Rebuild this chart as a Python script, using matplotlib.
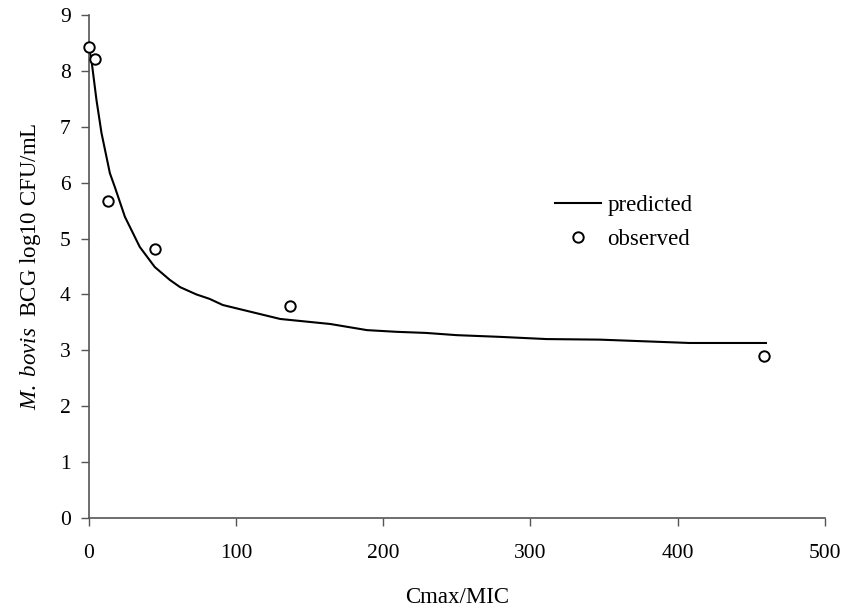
import matplotlib
matplotlib.use('Agg')
import matplotlib.pyplot as plt

plt.rcParams['font.family'] = ['Liberation Serif', 'DejaVu Serif']
plt.rcParams['mathtext.fontset'] = 'custom'
plt.rcParams['mathtext.it'] = 'Liberation Serif:italic'
plt.rcParams['mathtext.rm'] = 'Liberation Serif'

# model prediction (Cmax/MIC vs log10 CFU/mL)
pred_x = [0, 1.8, 5.2, 8.6, 14.3, 17.7, 24.5, 34.6, 44.8, 55, 62, 73, 82, 91,
          130, 164, 189, 209, 229, 250, 279, 311, 347, 408, 460]
pred_y = [8.43, 8.19, 7.48, 6.89, 6.17, 5.92, 5.39, 4.85, 4.49, 4.26, 4.13, 4.0,
          3.92, 3.81, 3.56, 3.47, 3.36, 3.33, 3.31, 3.27, 3.24, 3.2, 3.19, 3.13, 3.13]

# measured counts
obs_x = [0, 4, 13, 45, 136.5, 459]
obs_y = [8.43, 8.21, 5.67, 4.81, 3.79, 2.9]

fig, ax = plt.subplots(figsize=(8.46, 6.07), dpi=100)
fig.subplots_adjust(left=0.105, right=0.975, top=0.975, bottom=0.147)

ax.plot(pred_x, pred_y, color='black', lw=1.5, label='predicted')
ax.plot(obs_x, obs_y, linestyle='none', marker='o', markersize=7.5,
        markerfacecolor='white', markeredgecolor='black', markeredgewidth=1.4,
        clip_on=False, label='observed', zorder=3)

ax.set_xlim(0, 500)
ax.set_ylim(0, 9)
ax.set_xticks(range(0, 501, 100))
ax.set_yticks(range(0, 10))

for side in ['top', 'right']:
    ax.spines[side].set_visible(False)
for side in ['left', 'bottom']:
    ax.spines[side].set_color('#555555')
    ax.spines[side].set_linewidth(1.2)

ax.tick_params(axis='x', direction='out', length=6, width=1, color='#555555',
               labelsize=15.5, pad=13)
ax.tick_params(axis='y', direction='out', length=6, width=1, color='#555555',
               labelsize=15.5, pad=7)

ax.set_xlabel('Cmax/MIC', fontsize=16.5, labelpad=17)
ax.set_ylabel(r'$\mathit{M.\ bovis}$  BCG log10 CFU/mL', fontsize=16.5, labelpad=12)

ax.legend(loc='center left', bbox_to_anchor=(0.605, 0.588), frameon=False,
          fontsize=16.5, handlelength=2.0, handletextpad=0.3, labelspacing=0.55)

fig.savefig('out.png', dpi=100)
